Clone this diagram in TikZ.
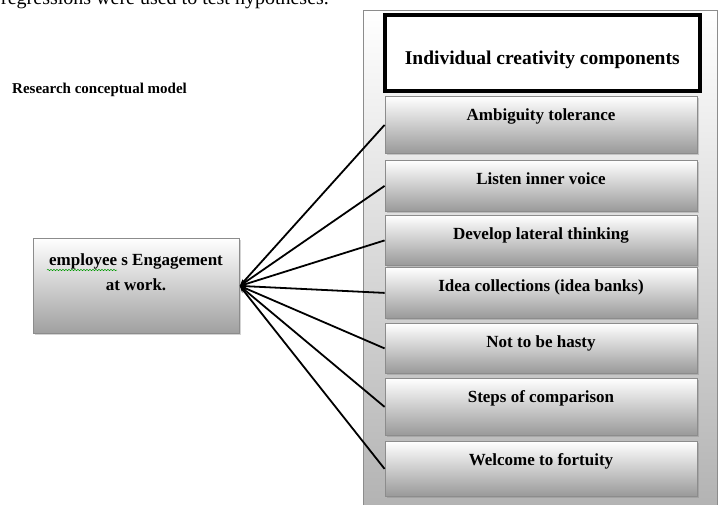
\documentclass[tikz,border=0pt]{standalone}
\usepackage{fontspec}
\setmainfont{Liberation Serif}
\usetikzlibrary{arrows.meta,shadows,decorations.pathmorphing}
\begin{document}
\begin{tikzpicture}[x=1pt,y=-1pt,
 shade/.style={drop shadow={opacity=0.35, shadow xshift=1.5pt, shadow yshift=-1.5pt}},
 itembox/.style={rectangle, draw=gray!90, line width=0.8pt, top color=white, bottom color=gray!80,
   minimum width=312pt, inner xsep=0pt, inner ysep=0pt, text height=24pt, text depth=#1,
   anchor=north, font=\fontsize{17}{20}\selectfont\bfseries, shade},
 panelbox/.style={rectangle, draw=gray!90, line width=0.8pt, top color=white, bottom color=gray!60,
   minimum width=354pt, minimum height=500pt, anchor=north west, inner sep=0pt},
 titlebox/.style={rectangle, draw=black, line width=3.5pt, fill=white, minimum width=315pt,
   inner xsep=0pt, inner ysep=0pt, text height=50pt, text depth=26pt, anchor=north west,
   font=\fontsize{19.5}{22}\selectfont\bfseries, shade},
 empbox/.style={rectangle, draw=gray!90, line width=0.8pt, top color=white, bottom color=gray!75,
   minimum width=206pt, minimum height=95pt, inner sep=0pt, anchor=north west, shade},
 emptext/.style={align=center, inner sep=0pt, font=\fontsize{17}{25}\selectfont\bfseries},
 conn/.style={line width=1.8pt, {Stealth[length=7pt,width=5pt]}-},
]
\useasboundingbox (0,0) rectangle (718,504);
\clip (0,0) rectangle (718,504);

\node[anchor=base west, inner sep=0pt, font=\fontsize{20}{24}\selectfont] (top) at (1,4)
  {regressions were used to test hypotheses.};

\node[anchor=base west, inner sep=0pt, font=\fontsize{15}{18}\selectfont\bfseries] (rcm) at (12,93)
  {Research conceptual model};

\node[panelbox] (panel) at (363,10) {};
\node[titlebox] (title) at (383,13) {Individual creativity components};

\node[itembox=33pt] (amb) at (541,96) {Ambiguity tolerance};
\node[itembox=27pt] (lis) at (541,160) {Listen inner voice};
\node[itembox=26pt] (dev) at (541,215) {Develop lateral thinking};
\node[itembox=27pt] (ide) at (541,267) {Idea collections (idea banks)};
\node[itembox=26pt] (not) at (541,323) {Not to be hasty};
\node[itembox=33pt] (ste) at (541,378) {Steps of comparison};
\node[itembox=31pt] (wel) at (541,441) {Welcome to fortuity};

\node[empbox] (emp) at (33,238) {};
\node[emptext, anchor=base] (empt) at (136,290) {employee s Engagement\\at work.};
\draw[green!60!black, line width=0.5pt, decorate, decoration={snake, amplitude=0.7pt, segment length=3pt}]
  (47,270) -- (117,270);

\foreach \t in {amb,lis,dev,ide,not,ste,wel}
  \draw[conn] (emp.east) -- (\t.west);
\end{tikzpicture}
\end{document}
